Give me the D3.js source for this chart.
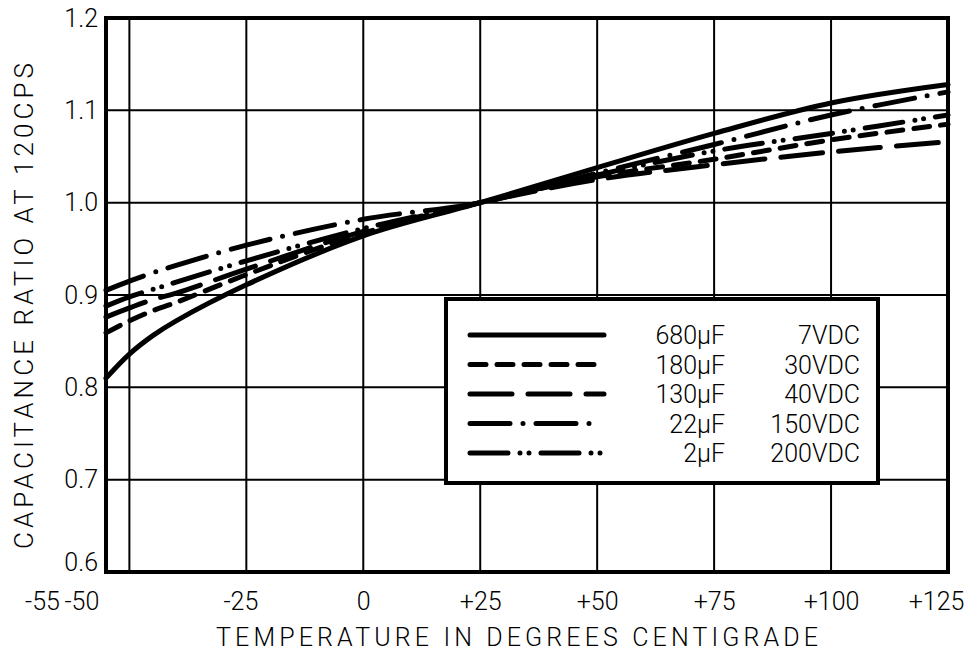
<!DOCTYPE html>
<html>
<head>
<meta charset="utf-8">
<script src="https://cdn.jsdelivr.net/npm/d3@7"></script>
<style>
  body { margin: 0; background: #fff; }
  text { font-family: Roboto, "DejaVu Sans", sans-serif; font-weight: 300; fill: #000; }
</style>
</head>
<body>
<div id="chart"></div>
<script>
const temps = [-55, -50, -45, -40, -25, 0, 25, 50, 75, 100, 125];

const cap680 = [0.81, 0.836, 0.856, 0.872, 0.911, 0.964, 1.0, 1.038, 1.075, 1.108, 1.128];
const cap180 = [0.859, 0.872, 0.883, 0.892, 0.922, 0.967, 1.0, 1.028, 1.047, 1.068, 1.085];
const cap130 = [0.876, 0.886, 0.895, 0.902, 0.928, 0.969, 1.0, 1.025, 1.041, 1.055, 1.066];
const cap22 = [0.905, 0.915, 0.924, 0.932, 0.954, 0.982, 1.0, 1.032, 1.063, 1.095, 1.12];
const cap2 = [0.888, 0.898, 0.906, 0.914, 0.937, 0.972, 1.0, 1.030, 1.056, 1.075, 1.095];

const seriesNames = ["680\u00b5F", "180\u00b5F", "130\u00b5F", "22\u00b5F", "2\u00b5F"];
const voltages = ["7VDC", "30VDC", "40VDC", "150VDC", "200VDC"];

const xTicks = [-55, -50, -25, 0, 25, 50, 75, 100, 125];
const xTickLabels = ["-55", "-50", "-25", "0", "+25", "+50", "+75", "+100", "+125"];
const yTicks = [0.6, 0.7, 0.8, 0.9, 1.0, 1.1, 1.2];

const width = 974, height = 656;
const margin = {top: 18, right: 26, bottom: 84, left: 106};

const svg = d3.select('#chart').append('svg')
    .attr('width', width)
    .attr('height', height);

const x = d3.scaleLinear().domain([-55, 125]).range([margin.left, width - margin.right]);
const y = d3.scaleLinear().domain([0.6, 1.2]).range([height - margin.bottom, margin.top]);

// grid
svg.append('g').selectAll('line').data(xTicks.slice(1, -1)).enter().append('line')
    .attr('x1', d => x(d)).attr('x2', d => x(d))
    .attr('y1', y(0.6)).attr('y2', y(1.2))
    .attr('stroke', '#000').attr('stroke-width', 2);

svg.append('g').selectAll('line').data(yTicks.slice(1, -1)).enter().append('line')
    .attr('x1', x(-55)).attr('x2', x(125))
    .attr('y1', d => y(d)).attr('y2', d => y(d))
    .attr('stroke', '#000').attr('stroke-width', 2);

// frame
svg.append('rect')
    .attr('x', x(-55)).attr('y', y(1.2))
    .attr('width', x(125) - x(-55)).attr('height', y(0.6) - y(1.2))
    .attr('fill', 'none').attr('stroke', '#000').attr('stroke-width', 4);

// axes (lines hidden, labels only)
const xAxis = svg.append('g')
    .attr('transform', 'translate(0,' + y(0.6) + ')')
    .call(d3.axisBottom(x).tickValues(xTicks).tickSize(0).tickPadding(20)
        .tickFormat((d, i) => xTickLabels[i]));
xAxis.select('.domain').remove();
xAxis.selectAll('text')
    .style('font-size', '25px')
    .style('font-family', 'Roboto, "DejaVu Sans", sans-serif')
    .attr('dx', d => d == -55 ? -64 : d == -50 ? -48 : d == 125 ? -12 : d == -25 ? -6 : 0);

const yAxis = svg.append('g')
    .attr('transform', 'translate(' + x(-55) + ',0)')
    .call(d3.axisLeft(y).tickValues(yTicks).tickSize(0).tickPadding(8).tickFormat(d3.format('.1f')));
yAxis.select('.domain').remove();
yAxis.selectAll('text')
    .style('font-size', '25px')
    .style('font-family', 'Roboto, "DejaVu Sans", sans-serif')
    .attr('dy', d => d == 0.6 ? '-0.05em' : '0.32em');

// axis titles
svg.append('text')
    .attr('x', (x(-55) + x(125)) / 2 - 10)
    .attr('y', 646)
    .attr('text-anchor', 'middle')
    .attr('textLength', 602)
    .attr('lengthAdjust', 'spacing')
    .style('font-size', '25px')
    .text('TEMPERATURE IN DEGREES CENTIGRADE');

svg.append('text')
    .attr('transform', 'translate(33,' + 306 + ') rotate(-90)')
    .attr('text-anchor', 'middle')
    .attr('textLength', 486)
    .attr('lengthAdjust', 'spacing')
    .style('font-size', '26px')
    .text('CAPACITANCE RATIO AT 120CPS');

// curves
const series = [cap680, cap180, cap130, cap22, cap2];
const dashes = ['none', '16,11', '42,16', '40,13,0,13', '38,12,0,9,0,12'];

const line = d3.line()
    .x((d, i) => x(temps[i]))
    .y(d => y(d))
    .curve(d3.curveCatmullRom.alpha(0.5));

svg.append('g').selectAll('path').data(series).enter().append('path')
    .attr('d', d => line(d))
    .attr('fill', 'none')
    .attr('stroke', '#000')
    .attr('stroke-width', 5)
    .attr('stroke-linecap', 'round')
    .attr('stroke-dasharray', (d, i) => dashes[i]);

// legend
const legend = svg.append('g');
legend.append('rect')
    .attr('x', 446).attr('y', 299)
    .attr('width', 432).attr('height', 184)
    .attr('fill', '#fff').attr('stroke', '#000').attr('stroke-width', 4);

const rows = legend.selectAll('g.row').data(seriesNames).enter().append('g')
    .attr('class', 'row')
    .attr('transform', (d, i) => 'translate(0,' + (335 + i * 29.5) + ')');

rows.append('line')
    .attr('x1', 470).attr('x2', (d, i) => i == 3 ? 596 : i == 4 ? 611 : 604)
    .attr('y1', 0).attr('y2', 0)
    .attr('stroke', '#000').attr('stroke-width', 5)
    .attr('stroke-linecap', 'round')
    .attr('stroke-dasharray', (d, i) => dashes[i]);

rows.append('text')
    .attr('x', 725).attr('y', 0).attr('dy', '0.36em')
    .attr('text-anchor', 'end')
    .style('font-size', '25px')
    .text(d => d);

rows.append('text')
    .attr('x', 860).attr('y', 0).attr('dy', '0.36em')
    .attr('text-anchor', 'end')
    .style('font-size', '25px')
    .text((d, i) => voltages[i]);
</script>
</body>
</html>
